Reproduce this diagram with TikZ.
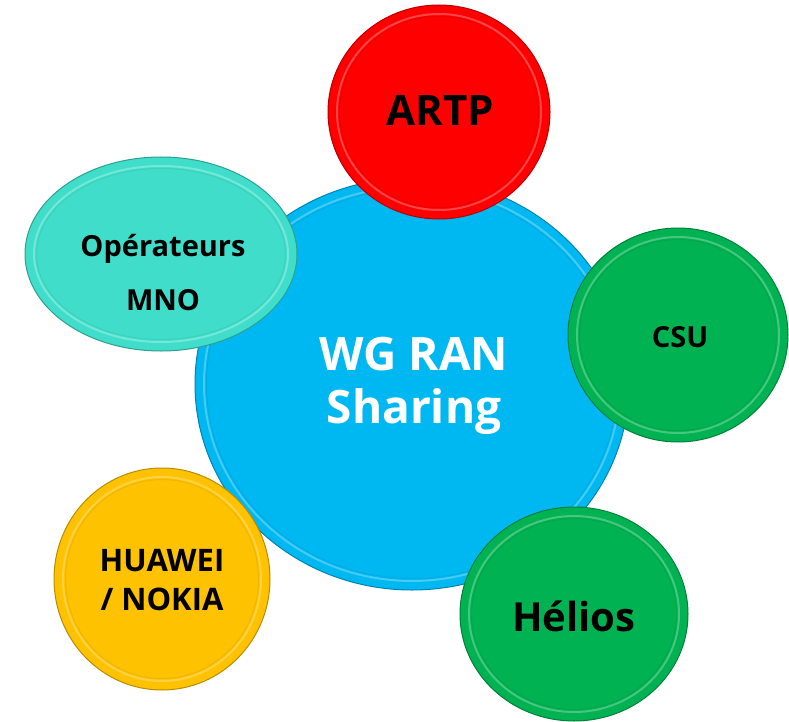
\documentclass[tikz,border=0pt]{standalone}
\usepackage{fontspec}
\setmainfont{Open Sans}
\usetikzlibrary{shapes.geometric}
\definecolor{cblue}{RGB}{0,184,241}
\definecolor{cred}{RGB}{255,0,0}
\definecolor{cteal}{RGB}{64,222,202}
\definecolor{cgreen}{RGB}{0,178,82}
\definecolor{cyellow}{RGB}{255,194,0}
\newcommand\bubble[6]{%
  \node[bub=#6, minimum width={2*#4pt}, minimum height={2*#5pt}] (#1) at (#2,#3) {};
  \draw[#6!55!white, line width=2pt, opacity=.6] (#1.center) ellipse [x radius={#4-9}, y radius={#5-9}];
  \draw[#6!80!black, line width=1pt, opacity=.3] (#1.center) ellipse [x radius={#4-11.5}, y radius={#5-11.5}];
}
\tikzset{
  bub/.style={ellipse, draw=#1!72!black, line width=1pt, fill=#1, inner sep=0pt},
  lbl/.style 2 args={align=center, inner sep=0pt, font={\bfseries\fontsize{#1}{#2}\selectfont}}
}
\begin{document}
\begin{tikzpicture}[x=1pt,y=-1pt]
\useasboundingbox (0,0) rectangle (789,722);
\bubble{wg}{412}{384}{217}{206}{cblue}
\bubble{artp}{439}{112}{111}{107}{cred}
\bubble{mno}{161}{254}{136}{97}{cteal}
\bubble{csu}{678}{335}{110}{107}{cgreen}
\bubble{hn}{162}{579}{108}{111}{cyellow}
\bubble{hel}{574}{614}{114}{107}{cgreen}
\node[lbl={46}{53}, text=white] (twg) at (414,386) {WG RAN\\Sharing};
\node[lbl={42}{50}] (tartp) at (440,110) {ARTP};
\node[lbl={29}{54}] (tmno) at (163,273) {Opérateurs\\MNO};
\node[lbl={29}{35}] (tcsu) at (680,337) {CSU};
\node[lbl={31}{39}] (thn) at (162,580) {HUAWEI\\/ NOKIA};
\node[lbl={40}{48}] (thel) at (574,616) {Hélios};
\end{tikzpicture}
\end{document}
